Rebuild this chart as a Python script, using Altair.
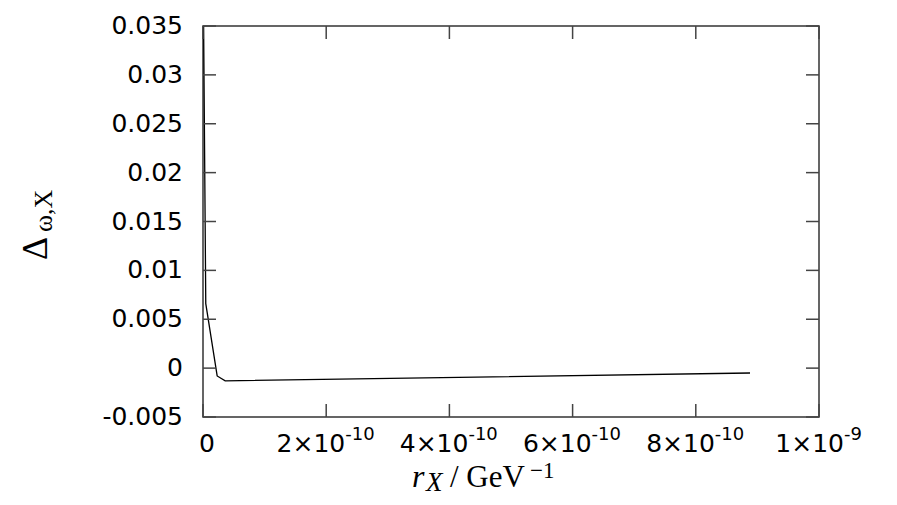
import altair as alt
import pandas as pd

# ---- data ----
r_values = [1e-12, 4.5e-12, 2.3e-11, 3.6e-11, 8.88e-10]
delta_values = [0.035, 0.0066, -0.0008, -0.0013, -0.0005]

x_ticks = [0, 2e-10, 4e-10, 6e-10, 8e-10, 1e-9]
x_base = ["0", "2×10", "4×10", "6×10", "8×10", "1×10"]
x_exp = ["", "-10", "-10", "-10", "-10", "-9"]
y_ticks = [-0.005, 0, 0.005, 0.01, 0.015, 0.02, 0.025, 0.03, 0.035]
y_labels = ["-0.005", "0", "0.005", "0.01", "0.015", "0.02", "0.025", "0.03", "0.035"]

W, H = 616, 391
TICK = 13

df = pd.DataFrame({"r": r_values, "d": delta_values})
xdf = pd.DataFrame({"xv": x_ticks, "base": x_base, "exp": x_exp})
ydf = pd.DataFrame({"yv": y_ticks, "lab": y_labels})

xs = alt.Scale(domain=[0, 1e-9], nice=False, zero=False)
ys = alt.Scale(domain=[-0.005, 0.035], nice=False, zero=False)

line = alt.Chart(df).mark_line(color="black", strokeWidth=1.3, clip=True).encode(
    x=alt.X("r:Q", scale=xs, axis=None),
    y=alt.Y("d:Q", scale=ys, axis=None),
)

tick_color = "#444"
left_t = alt.Chart(ydf).mark_rule(color=tick_color, strokeWidth=1.5).encode(
    y=alt.Y("yv:Q", scale=ys, axis=None), x=alt.value(0), x2=alt.value(TICK))
right_t = alt.Chart(ydf).mark_rule(color=tick_color, strokeWidth=1.5).encode(
    y=alt.Y("yv:Q", scale=ys, axis=None), x=alt.value(W - TICK), x2=alt.value(W))
bot_t = alt.Chart(xdf).mark_rule(color=tick_color, strokeWidth=1.5).encode(
    x=alt.X("xv:Q", scale=xs, axis=None), y=alt.value(H - TICK), y2=alt.value(H))
top_t = alt.Chart(xdf).mark_rule(color=tick_color, strokeWidth=1.5).encode(
    x=alt.X("xv:Q", scale=xs, axis=None), y=alt.value(0), y2=alt.value(TICK))

sans = "DejaVu Sans"
LY = H + 27


def xlabel_layer(filt, field, align, dx, size, y):
    return alt.Chart(xdf).transform_filter(filt).mark_text(
        font=sans, fontSize=size, color="black", align=align, baseline="middle", dx=dx
    ).encode(x=alt.X("xv:Q", scale=xs, axis=None), y=alt.value(y), text=f"{field}:N")


x_labs = [
    xlabel_layer("datum.exp == ''", "base", "center", 4, 25, LY),
    xlabel_layer("datum.exp == '-10'", "base", "right", 19, 25, LY),
    xlabel_layer("datum.exp == '-10'", "exp", "left", 19, 18, LY - 9),
    xlabel_layer("datum.exp == '-9'", "base", "right", 25, 25, LY),
    xlabel_layer("datum.exp == '-9'", "exp", "left", 25, 18, LY - 9),
]

y_lab = alt.Chart(ydf).mark_text(
    font=sans, fontSize=25, color="black", align="right", baseline="middle"
).encode(y=alt.Y("yv:Q", scale=ys, axis=None), x=alt.value(-20), text="lab:N")

serif = "Liberation Serif"


def txt(s, x, y, size, style="normal", angle=0):
    return alt.Chart(pd.DataFrame({"t": [s]})).mark_text(
        font=serif, fontSize=size, fontStyle=style, color="black",
        align="left", baseline="alphabetic", angle=angle,
    ).encode(text="t:N", x=alt.value(x), y=alt.value(y))


titles = [
    txt("r", 209, 461, 32, "italic"),
    txt("X", 223, 465, 27, "italic"),
    txt("/ GeV", 247, 461, 31),
    txt("−1", 327, 452, 23),
    txt("Δ", -156, 234, 36, angle=270),
    txt("ω,X", -151, 206, 26, angle=270),
]

chart = alt.layer(line, left_t, right_t, bot_t, top_t, *x_labs, y_lab, *titles).properties(
    width=W, height=H,
    autosize=alt.AutoSizeParams(type="none"),
    padding={"left": 195, "top": 18, "right": 70, "bottom": 80},
).configure_view(stroke="#333", strokeWidth=1.5)

chart.save("out.html", embed_options={"renderer": "svg", "actions": False})
